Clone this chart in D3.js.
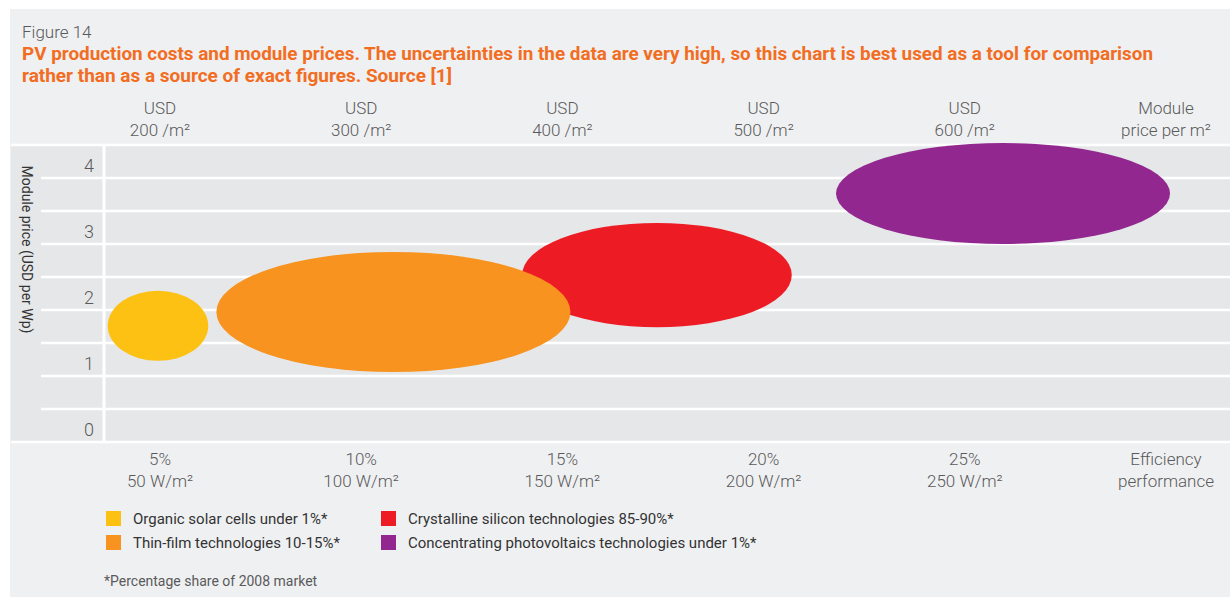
<!DOCTYPE html>
<html>
<head>
<meta charset="utf-8">
<script src="https://cdn.jsdelivr.net/npm/d3@7"></script>
<style>
  body { margin: 0; background: #fff; }
  svg { display: block; }
</style>
</head>
<body>
<svg id="chart" width="1230" height="601"></svg>
<script>
// efficiency axis (bottom) and cost axis (top) share the same ticks
const efficiencyTicks = [5, 10, 15, 20, 25]
const efficiencyLabels = ['5%', '10%', '15%', '20%', '25%']
const powerLabels = ['50 W/m²', '100 W/m²', '150 W/m²', '200 W/m²', '250 W/m²']
const costLabels = ['200 /m²', '300 /m²', '400 /m²', '500 /m²', '600 /m²']
const priceTicks = [0, 1, 2, 3, 4]

// technologies, each drawn as an ellipse spanning an efficiency and price range
const technologies = [
  'Organic solar cells under 1%*',
  'Thin-film technologies 10-15%*',
  'Crystalline silicon technologies 85-90%*',
  'Concentrating photovoltaics technologies under 1%*'
]
const colours = ['#fdc113', '#f7931e', '#ed1c24', '#92278f']
const efficiencyMin = [3.7, 6.4, 14.0, 21.8]
const efficiencyMax = [6.2, 15.2, 20.7, 30.1]
const priceMin = [0.98, 0.81, 1.49, 2.75]
const priceMax = [2.04, 2.63, 3.07, 4.28]
const drawOrder = [2, 1, 0, 3]

const width = 1230
const height = 601
const panel = { left: 11, right: 1230, top: 145, bottom: 442 }

const lightFont = 'Roboto, "DejaVu Sans", sans-serif'
const textGrey = '#5a5a5a'

const svg = d3.select('#chart')

svg.append('rect')
  .attr('x', 10).attr('y', 9)
  .attr('width', width - 10).attr('height', 588)
  .attr('fill', '#eff0f2')

const x = d3.scaleLinear()
  .domain([5, 30])
  .range([160, 1166])

const y = d3.scaleLinear()
  .domain([-0.25, 4.25])
  .range([panel.bottom, panel.top])

// plot panel
svg.append('rect')
  .attr('x', panel.left).attr('y', panel.top)
  .attr('width', panel.right - panel.left)
  .attr('height', panel.bottom - panel.top)
  .attr('fill', '#e6e7e9')

// grid: white lines between the half-unit bands
const gridValues = d3.range(-0.25, 4.26, 0.5)
svg.append('g')
  .selectAll('line')
  .data(gridValues)
  .enter().append('line')
  .attr('x1', (d, i) => (i === 0 || i === gridValues.length - 1) ? panel.left : 41)
  .attr('x2', panel.right)
  .attr('y1', d => y(d))
  .attr('y2', d => y(d))
  .attr('stroke', '#fff')
  .attr('stroke-width', 2.5)

svg.append('line')
  .attr('x1', 104).attr('x2', 104)
  .attr('y1', panel.top).attr('y2', panel.bottom)
  .attr('stroke', '#fff')
  .attr('stroke-width', 3)

// y tick labels
svg.append('g')
  .attr('font-family', lightFont)
  .attr('font-weight', 300)
  .attr('font-size', 18)
  .attr('fill', textGrey)
  .attr('text-anchor', 'end')
  .selectAll('text')
  .data(priceTicks)
  .enter().append('text')
  .attr('x', 94)
  .attr('y', d => y(d) + 10)
  .text(d => d)

svg.append('text')
  .text('Module price (USD per Wp)')
  .attr('transform', 'translate(22,' + (y(2) - 44) + ') rotate(90)')
  .attr('text-anchor', 'middle')
  .attr('font-family', lightFont)
  .attr('font-size', 14)
  .attr('fill', '#333')

// ellipses
svg.append('g')
  .selectAll('ellipse')
  .data(drawOrder)
  .enter().append('ellipse')
  .attr('cx', i => (x(efficiencyMin[i]) + x(efficiencyMax[i])) / 2)
  .attr('cy', i => (y(priceMin[i]) + y(priceMax[i])) / 2)
  .attr('rx', i => (x(efficiencyMax[i]) - x(efficiencyMin[i])) / 2)
  .attr('ry', i => (y(priceMin[i]) - y(priceMax[i])) / 2)
  .attr('fill', i => colours[i])

// top and bottom axis labels
const twoLineLabels = (lines, top) => {
  const g = svg.append('g')
    .attr('font-family', lightFont)
    .attr('font-weight', 300)
    .attr('font-size', 17)
    .attr('fill', textGrey)
    .attr('text-anchor', 'middle')
  const t = g.selectAll('text')
    .data(lines)
    .enter().append('text')
    .attr('x', d => x(d.value))
  t.append('tspan').attr('y', top).text(d => d.first)
  t.append('tspan').attr('x', d => x(d.value)).attr('y', top + 22).text(d => d.second)
}

twoLineLabels(
  efficiencyTicks.map((v, i) => ({ value: v, first: 'USD', second: costLabels[i] }))
    .concat([{ value: 30, first: 'Module', second: 'price per m²' }]),
  114
)
twoLineLabels(
  efficiencyTicks.map((v, i) => ({ value: v, first: efficiencyLabels[i], second: powerLabels[i] }))
    .concat([{ value: 30, first: 'Efficiency', second: 'performance' }]),
  465
)

// titles
svg.append('text')
  .text('Figure 14')
  .attr('x', 22).attr('y', 38)
  .attr('font-family', lightFont)
  .attr('font-weight', 300)
  .attr('font-size', 17)
  .attr('fill', textGrey)

const titleLines = [
  'PV production costs and module prices. The uncertainties in the data are very high, so this chart is best used as a tool for comparison',
  'rather than as a source of exact figures. Source [1]'
]
const titleWidths = [1131, 430]
svg.append('g')
  .attr('font-family', lightFont)
  .attr('font-weight', 700)
  .attr('font-size', 18)
  .attr('fill', '#f26d21')
  .selectAll('text')
  .data(titleLines)
  .enter().append('text')
  .attr('x', 22)
  .attr('y', (d, i) => 60 + i * 22)
  .attr('textLength', (d, i) => titleWidths[i])
  .attr('lengthAdjust', 'spacingAndGlyphs')
  .text(d => d)

// legend
const legendOrder = [0, 1, 2, 3]
const legend = svg.append('g')
  .attr('font-family', lightFont)
  .attr('font-size', 15)
  .attr('fill', '#333')
  .selectAll('g')
  .data(legendOrder)
  .enter().append('g')
  .attr('transform', i => 'translate(' + (i < 2 ? 106 : 381) + ',' + (511 + (i % 2) * 24) + ')')

legend.append('rect')
  .attr('width', 15).attr('height', 15)
  .attr('fill', i => colours[i])
legend.append('text')
  .attr('x', 27).attr('y', 13)
  .text(i => technologies[i])

svg.append('text')
  .text('*Percentage share of 2008 market')
  .attr('x', 104).attr('y', 586)
  .attr('font-family', lightFont)
  .attr('font-size', 14)
  .attr('fill', textGrey)
</script>
</body>
</html>
